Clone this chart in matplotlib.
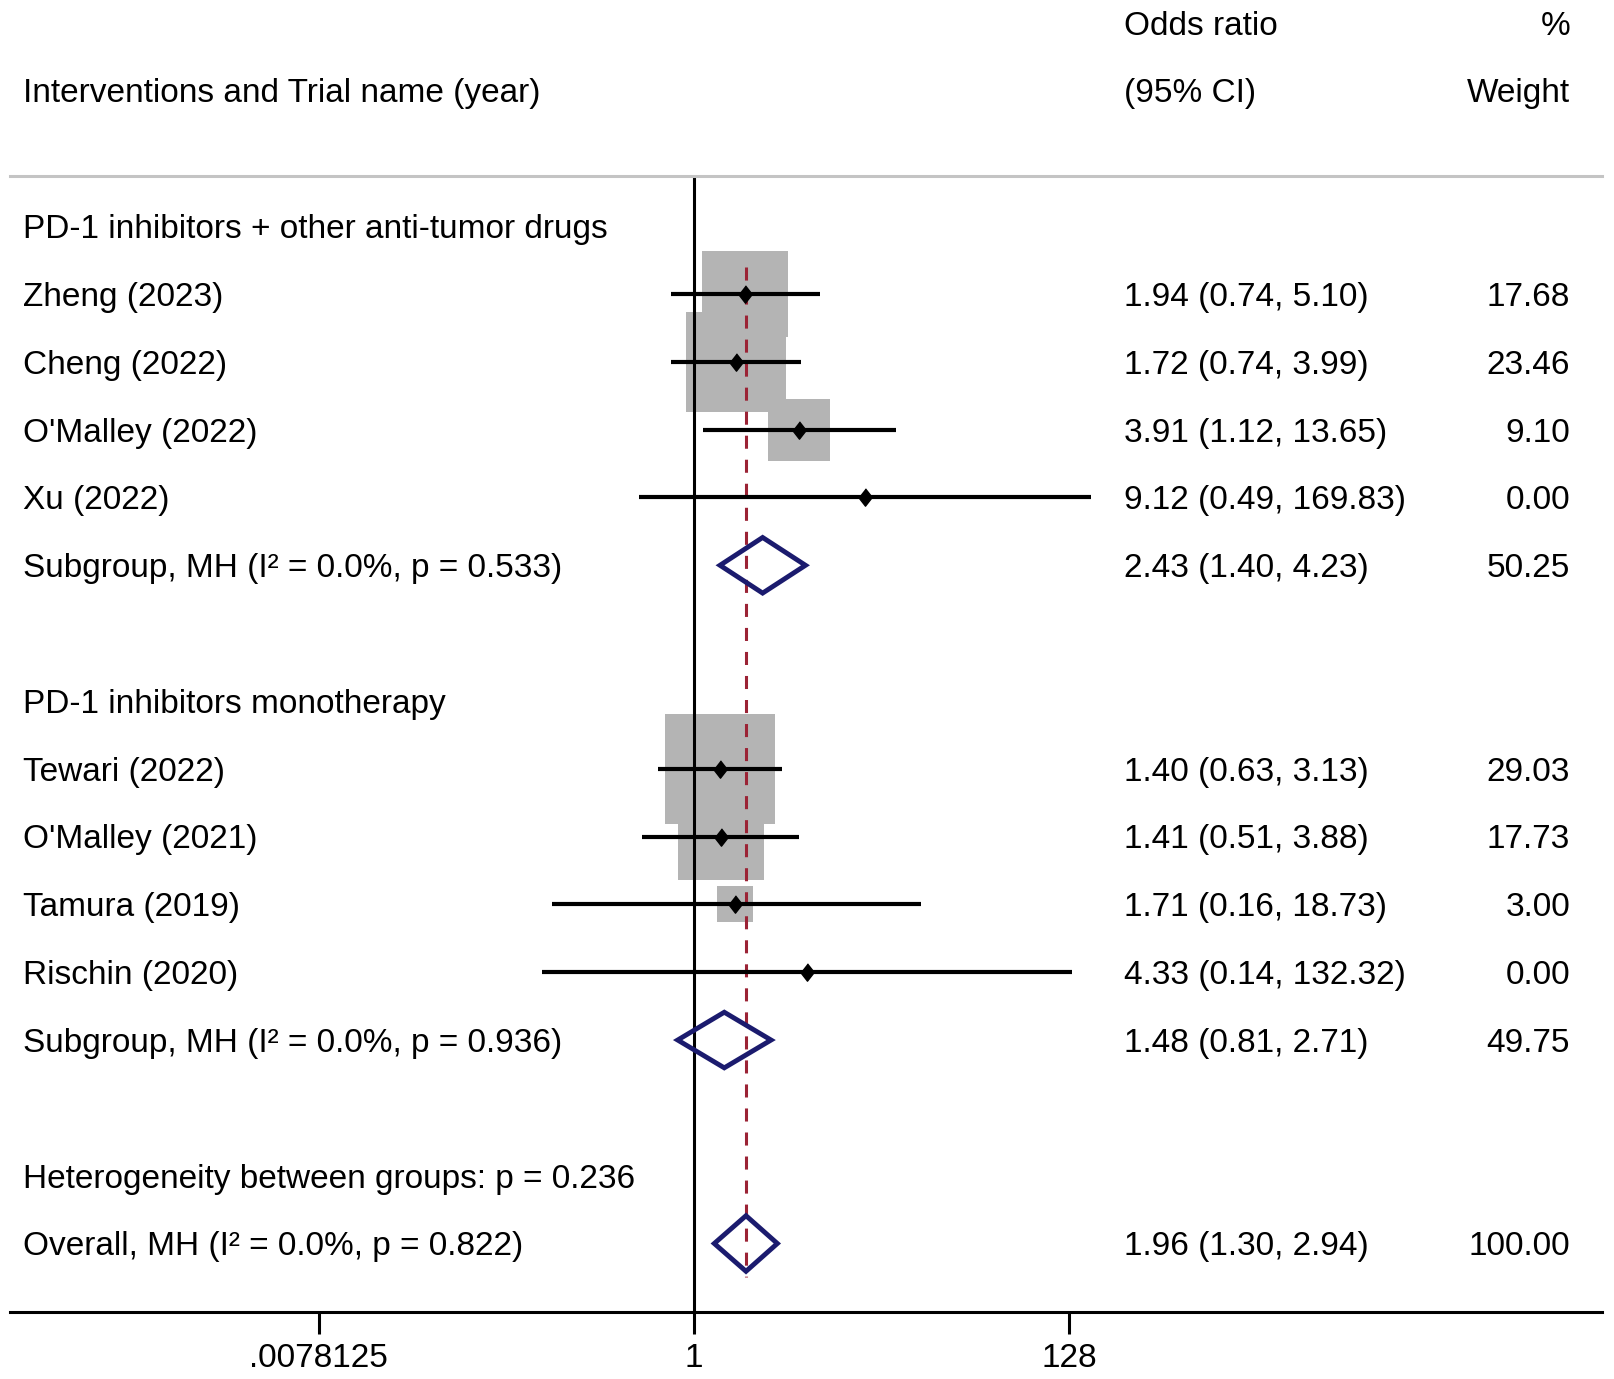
import numpy as np
import matplotlib
matplotlib.use("Agg")
import matplotlib.pyplot as plt
import matplotlib.transforms as mtransforms
from matplotlib import ticker
from matplotlib.patches import Polygon

plt.rcParams["font.family"] = ["Liberation Sans", "DejaVu Sans"]
plt.rcParams["mathtext.default"] = "regular"
plt.rcParams["lines.scale_dashes"] = False

# --- data ---
group_names = ["PD-1 inhibitors + other anti-tumor drugs", "PD-1 inhibitors monotherapy"]
study_names = [
    ["Zheng (2023)", "Cheng (2022)", "O'Malley (2022)", "Xu (2022)"],
    ["Tewari (2022)", "O'Malley (2021)", "Tamura (2019)", "Rischin (2020)"],
]
study_or = [[1.94, 1.72, 3.91, 9.12], [1.40, 1.41, 1.71, 4.33]]
study_lo = [[0.74, 0.74, 1.12, 0.49], [0.63, 0.51, 0.16, 0.14]]
study_hi = [[5.10, 3.99, 13.65, 169.83], [3.13, 3.88, 18.73, 132.32]]
study_wt = [[17.68, 23.46, 9.10, 0.00], [29.03, 17.73, 3.00, 0.00]]

sub_or = [2.43, 1.48]
sub_lo = [1.40, 0.81]
sub_hi = [4.23, 2.71]
sub_wt = [50.25, 49.75]
sub_i2 = [0.0, 0.0]
sub_p = [0.533, 0.936]

het_p = 0.236
overall_or, overall_lo, overall_hi, overall_wt = 1.96, 1.30, 2.94, 100.00
overall_i2, overall_p = 0.0, 0.822

tick_vals = [2.0 ** -7, 1, 2.0 ** 7]
tick_labels = [".0078125", "1", "128"]

# --- figure layout (pixels) ---
W, H = 1614, 1379
fig = plt.figure(figsize=(W / 100, H / 100), dpi=100)
ax = fig.add_axes([10 / W, 1 - 1312 / H, (1602 - 10) / W, (1312 - 176) / H])
ax.set_xscale("log", base=2)
ax.set_xlim(2 ** -12.76, 2 ** 16.94)
ax.set_ylim(16.01, -0.74)

for side in ["left", "right"]:
    ax.spines[side].set_visible(False)
ax.spines["top"].set_color("#c4c4c4")
ax.spines["top"].set_linewidth(2.2)
ax.spines["bottom"].set_linewidth(2.2)
ax.set_yticks([])
ax.set_xticks(tick_vals, tick_labels)
ax.xaxis.set_minor_locator(ticker.NullLocator())
ax.tick_params(axis="x", direction="out", length=16, width=2.2, labelsize=24, pad=6)

fs = 24
dy = 0.05  # text sits a touch lower than the marks
trans = mtransforms.blended_transform_factory(fig.transFigure, ax.transData)
x_left, x_ci, x_wt = 22.6 / W, 1124 / W, 1570 / W

def row_text(y, left, ci=None, wt=None):
    ax.text(x_left, y + dy, left, transform=trans, fontsize=fs, va="center", ha="left")
    if ci is not None:
        ax.text(x_ci, y + dy, ci, transform=trans, fontsize=fs, va="center", ha="left")
    if wt is not None:
        ax.text(x_wt, y + dy, wt, transform=trans, fontsize=fs, va="center", ha="right")

def ci_str(e, lo, hi):
    return f"{e:.2f} ({lo:.2f}, {hi:.2f})"

def diamond(y, e, lo, hi):
    h = 0.41
    ax.add_patch(Polygon([(lo, y), (e, y - h), (hi, y), (e, y + h)], closed=True,
                         facecolor="none", edgecolor="#1b1b6e", lw=3.5, zorder=4,
                         joinstyle="miter"))

# headers
ax.text(x_ci, -3 + dy, "Odds ratio", transform=trans, fontsize=fs, va="center", ha="left")
ax.text(x_wt, -3 + dy, "%", transform=trans, fontsize=fs, va="center", ha="right")
row_text(-2, "Interventions and Trial name (year)", "(95% CI)", "Weight")

pt_marker = [(0, 1), (0.78, 0), (0, -1), (-0.78, 0)]
y = 0
for g in range(len(group_names)):
    row_text(y, group_names[g])
    y += 1
    for k in range(len(study_names[g])):
        e, lo, hi, w = study_or[g][k], study_lo[g][k], study_hi[g][k], study_wt[g][k]
        if w > 0:
            side_pt = 20.5 * np.sqrt(w) * 0.72
            ax.scatter([e], [y], s=side_pt ** 2, marker="s", color="#b4b4b4",
                       linewidths=0, zorder=1)
        ax.plot([lo, hi], [y, y], color="black", lw=3.0, zorder=5, solid_capstyle="butt")
        ax.plot([e], [y], marker=pt_marker, markersize=12.5, color="black", zorder=6)
        row_text(y, study_names[g][k], ci_str(e, lo, hi), f"{w:.2f}")
        y += 1
    diamond(y, sub_or[g], sub_lo[g], sub_hi[g])
    row_text(y, f"Subgroup, MH (I² = {sub_i2[g]:.1f}%, p = {sub_p[g]:.3f})",
             ci_str(sub_or[g], sub_lo[g], sub_hi[g]), f"{sub_wt[g]:.2f}")
    y += 2

row_text(y, f"Heterogeneity between groups: p = {het_p:.3f}")
y += 1
diamond(y, overall_or, overall_lo, overall_hi)
row_text(y, f"Overall, MH (I² = {overall_i2:.1f}%, p = {overall_p:.3f})",
         ci_str(overall_or, overall_lo, overall_hi), f"{overall_wt:.2f}")

# reference lines
ax.axvline(1, color="black", lw=2.2, zorder=2)
ax.plot([overall_or, overall_or], [0.6, y + 0.5], color="#9b2335", lw=2.2,
        dashes=(9.4, 7.9), zorder=3)

fig.savefig("out.png", dpi=100)
